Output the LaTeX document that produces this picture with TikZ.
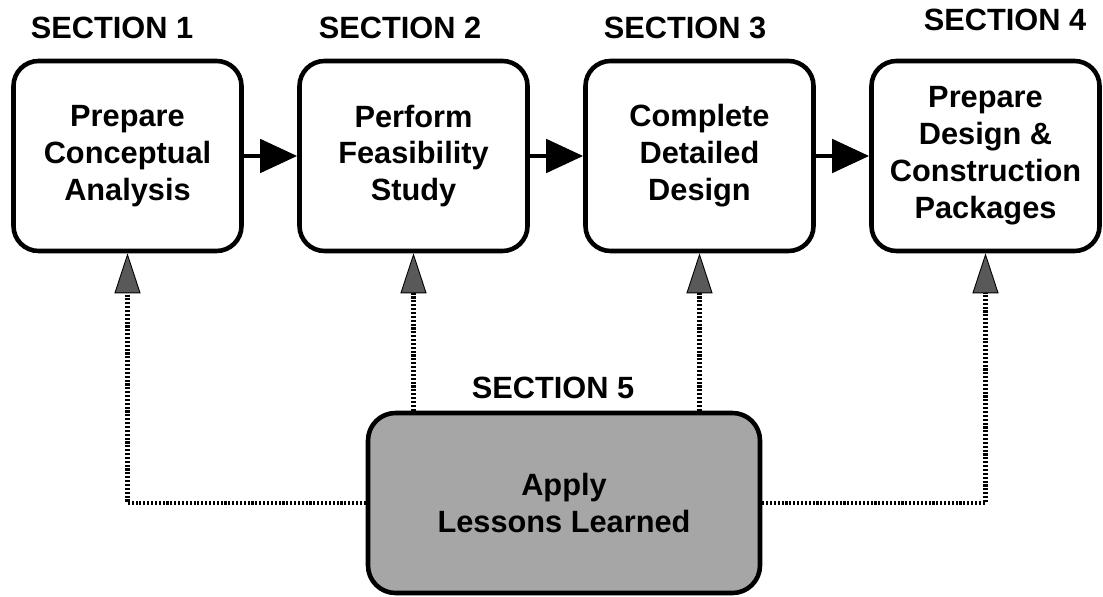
\documentclass[tikz,border=0pt]{standalone}
\usepackage{fontspec}
\setmainfont{Liberation Sans}
\usetikzlibrary{positioning,arrows.meta}

\begin{document}
\begin{tikzpicture}[
        on grid,node distance=2.56cm and 5.72cm,
        every node/.style={font=\bfseries\fontsize{17.5}{21}\selectfont},
        stage/.style={
          draw,line width=2.6pt,rounded corners=0.5cm,align=center,
          minimum width=4.56cm,minimum height=3.8cm,inner sep=2pt},
        heading/.style={inner sep=0pt},
        flow/.style={line width=2.8pt,-{Triangle[length=0.74cm,width=0.66cm]}},
        feedback/.style={line width=2.3pt,dash pattern=on 1.2pt off 1pt,
          -{Triangle[length=0.8cm,width=0.52cm,fill=black!65,line width=0.5pt]}}]
      \useasboundingbox (0,0) rectangle (22.06,11.92);
      \node[stage] (concept) at (2.55,8.8) {Prepare\\Conceptual\\Analysis};
      \node[stage, right=of concept] (feasible) {Perform\\Feasibility\\Study};
      \node[stage, right=of feasible] (detail) {Complete\\Detailed\\Design};
      \node[stage, right=of detail] (packages) {Prepare\\Design \&\\Construction\\Packages};
      \node[heading, above=of concept, xshift=-0.31cm] (sec1) {SECTION 1};
      \node[heading, above=of feasible, xshift=-0.27cm] (sec2) {SECTION 2};
      \node[heading, above=of detail, xshift=-0.29cm] (sec3) {SECTION 3};
      \node[heading, above=2.72cm of packages, xshift=0.39cm] (sec4) {SECTION 4};
      % shaded box feeding back into every section
      \node[stage, fill=black!35, minimum width=7.84cm, minimum height=3.6cm,
        rounded corners=0.55cm] (lessons) at (11.28,1.86) {Apply\\Lessons Learned};
      \node[heading, above=2.3cm of lessons, xshift=-0.22cm] (sec5) {SECTION 5};
      \draw[flow] (concept) -- (feasible);
      \draw[flow] (feasible) -- (detail);
      \draw[flow] (detail) -- (packages);
      \draw[feedback] (lessons.west) -| (concept.south);
      \draw[feedback] (lessons.north -| feasible.south) -- (feasible.south);
      \draw[feedback] (lessons.north -| detail.south) -- (detail.south);
      \draw[feedback] (lessons.east) -| (packages.south);
    \end{tikzpicture}
\end{document}
